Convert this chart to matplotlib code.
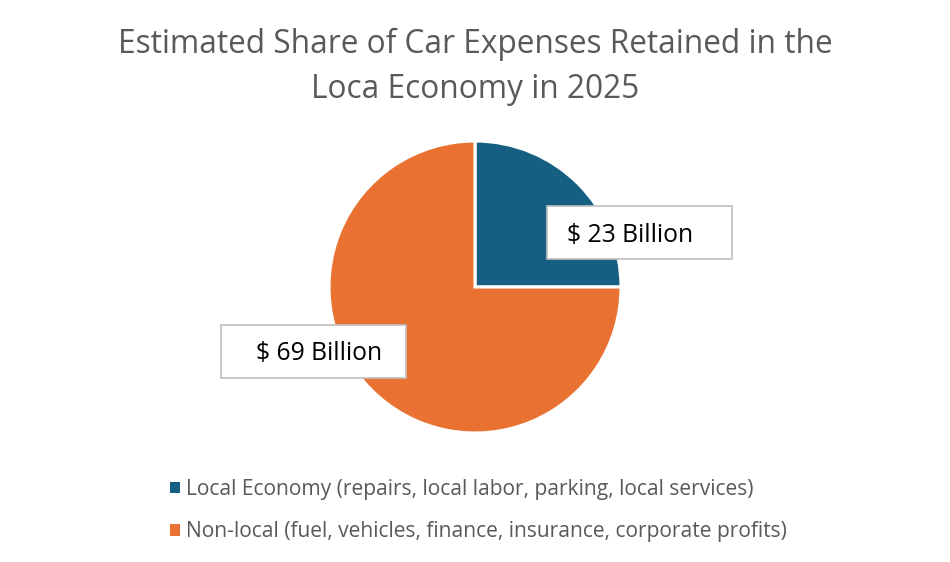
import matplotlib

matplotlib.use('Agg')

import matplotlib.pyplot as plt
from matplotlib.patches import Patch, Rectangle

categories = ['Local Economy (repairs, local labor, parking, local services)',
              'Non-local (fuel, vehicles, finance, insurance, corporate profits)']
values = [23, 69]
value_labels = ['$ 23 Billion', '$ 69 Billion']
colors = ['#156082', '#E97132']
title_lines = ['Estimated Share of Car Expenses Retained in the', 'Loca Economy in 2025']

plt.rcParams['font.family'] = ['Open Sans', 'DejaVu Sans']
text_gray = '#595959'

fig = plt.figure(figsize=(9.5, 5.62), dpi=100)
for line, ypx in zip(title_lines, [44, 89]):
    fig.text(0.5, 1 - ypx / 562, line, ha='center', va='center', fontsize=22.8,
             color=text_gray)

# pie axes: center at (475, 287) px, radius 146 px
r_px = 146
ax = fig.add_axes([(475 - r_px) / 950, (562 - 287 - r_px) / 562, 2 * r_px / 950, 2 * r_px / 562])
wedges, _ = ax.pie(values, colors=colors, startangle=90, counterclock=False,
                   wedgeprops=dict(edgecolor='white', linewidth=2.2))
ax.set_xlim(-1, 1)
ax.set_ylim(-1, 1)
ax.set_aspect('equal')

# label boxes (centres in pie units), text left edge inside each box
box_w, box_h = 185 / r_px, 53 / r_px
box_centres = [(164.5 / r_px, 54.5 / r_px), (-162 / r_px, -64 / r_px)]
text_pads = [20 / r_px, 36 / r_px]
for (cx, cy), lab, pad in zip(box_centres, value_labels, text_pads):
    ax.add_patch(Rectangle((cx - box_w / 2, cy - box_h / 2), box_w, box_h,
                           facecolor='white', edgecolor='#BFBFBF', linewidth=1.2,
                           clip_on=False, zorder=3))
    ax.text(cx - box_w / 2 + pad, cy - 2.5 / r_px, lab, ha='left', va='center',
            fontsize=17.8, color='black', zorder=4, clip_on=False)

handles = [Patch(facecolor=c, edgecolor='none') for c in colors]
fig.legend(handles, categories, loc='upper left', bbox_to_anchor=(151 / 950, 1 - 460 / 562),
           frameon=False, fontsize=15.1, handlelength=0.48, handleheight=0.48,
           handletextpad=0.28, labelspacing=1.02, labelcolor=text_gray)

fig.savefig('out.png', dpi=100)
